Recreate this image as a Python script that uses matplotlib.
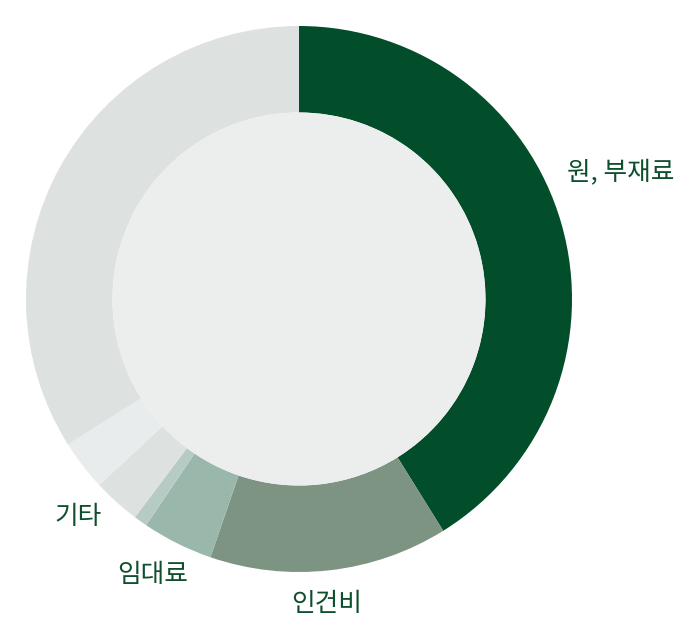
import matplotlib.pyplot as plt
from matplotlib.patches import Circle

plt.rcParams['font.family'] = ['Noto Sans CJK KR', 'DejaVu Sans']

# slice shares (%), clockwise from 12 o'clock
values = [41.1, 14.1, 4.2, 0.8, 2.8, 3.0, 33.9]
colors = ['#024d2a', '#7e9482', '#9ab7ac', '#b6cbc4', '#dde2e0', '#e8ecec', '#dde1df']

# labels shown outside the ring (pixel positions)
label_text = ['원, 부재료', '인건비', '임대료', '기타']
label_x = [621, 327, 153, 78]
label_y = [172, 604, 575, 517]

W, H = 690, 630
cx, cy = 299, 299
r_out, r_in = 273, 186.5

fig = plt.figure(figsize=(W / 100, H / 100), dpi=100)
ax = fig.add_axes([0, 0, 1, 1])
ax.set_xlim(0, W)
ax.set_ylim(0, H)
ax.set_aspect('equal')
ax.axis('off')

ax.pie(values, colors=colors, startangle=90, counterclock=False,
       center=(cx, H - cy), radius=r_out,
       wedgeprops=dict(width=r_out - r_in, linewidth=0))
ax.add_patch(Circle((cx, H - cy), r_in, facecolor='#eceeed', edgecolor='none'))

ax.set_xlim(0, W)
ax.set_ylim(0, H)

for t, x, y in zip(label_text, label_x, label_y):
    ax.text(x, H - y, t, fontsize=18.5, fontweight='medium', color='#0e4f2d',
            ha='center', va='center')

fig.savefig('out.png', dpi=100, facecolor='white')
